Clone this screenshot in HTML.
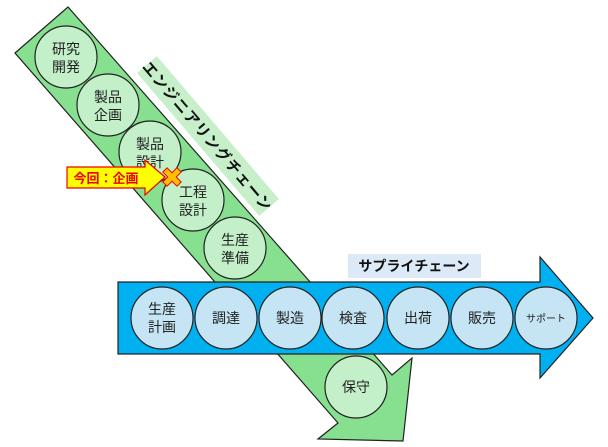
<!DOCTYPE html>
<html><head><meta charset="utf-8"><style>
html,body{margin:0;padding:0;background:#fff}
svg{display:block}
text{font-family:"Liberation Sans","Noto Sans CJK JP",sans-serif;}
</style></head><body>
<svg width="608" height="447" viewBox="0 0 608 447" xmlns="http://www.w3.org/2000/svg">
<polygon points="15,53 68,7 392,375 412,358 403,441 318,439 338,423" fill="#86e08f" stroke="#222" stroke-width="1.2"/>
<g transform="translate(208,136) rotate(49.5)">
<rect x="-94" y="-13" width="188" height="26" fill="#c6efca"/>
<text x="0" y="6" font-size="15" font-weight="bold" text-anchor="middle" fill="#111" letter-spacing="1">エンジニアリングチェーン</text>
</g>
<g fill="#c3efc9" stroke="#222" stroke-width="1.2">
<circle cx="66" cy="57" r="31"/><circle cx="108" cy="105" r="31"/><circle cx="150" cy="152" r="31"/><circle cx="193" cy="200" r="31"/><circle cx="235" cy="248" r="31"/><circle cx="356" cy="387" r="31"/>
</g>
<g font-size="14" fill="#222" text-anchor="middle">
<text x="66" y="54">研究</text><text x="66" y="72">開発</text>
<text x="108" y="102">製品</text><text x="108" y="120">企画</text>
<text x="150" y="149">製品</text><text x="150" y="167">設計</text>
<text x="193" y="197">工程</text><text x="193" y="215">設計</text>
<text x="235" y="245">生産</text><text x="235" y="263">準備</text>
<text x="356" y="392">保守</text>
</g>
<polygon points="118,282 540,282 540,257 593,318 540,378 540,354 118,354" fill="#00b0f0" stroke="#222" stroke-width="1.2"/>
<rect x="348" y="254" width="133" height="24" fill="#dce9f6"/>
<text x="414" y="271" font-size="14" font-weight="bold" text-anchor="middle" fill="#111">サプライチェーン</text>
<g fill="#c5e5f5" stroke="#222" stroke-width="1.2">
<circle cx="162" cy="318" r="31"/><circle cx="226" cy="318" r="31"/><circle cx="290" cy="318" r="31"/><circle cx="353" cy="318" r="31"/><circle cx="418" cy="318" r="31"/><circle cx="482" cy="318" r="31"/><circle cx="546" cy="318" r="31"/>
</g>
<g font-size="14" fill="#222" text-anchor="middle">
<text x="162" y="314">生産</text><text x="162" y="332">計画</text>
<text x="226" y="323">調達</text><text x="290" y="323">製造</text><text x="353" y="323">検査</text><text x="418" y="323">出荷</text><text x="482" y="323">販売</text>
<text x="546" y="322" font-size="10">サポート</text>
</g>
<polygon points="67,167 145,167 145,160 165,177 145,195 145,188 67,188" fill="#ffff00" stroke="#e00" stroke-width="1.2"/>
<text x="106" y="183" font-size="13" font-weight="bold" text-anchor="middle" fill="#e00">今回：企画</text>
<g transform="translate(172,177) rotate(45)">
<polygon points="-3,-10 3,-10 3,-3 10,-3 10,3 3,3 3,10 -3,10 -3,3 -10,3 -10,-3 -3,-3" fill="#ffc000" stroke="#e00" stroke-width="1"/>
</g>
</svg>
</body></html>
